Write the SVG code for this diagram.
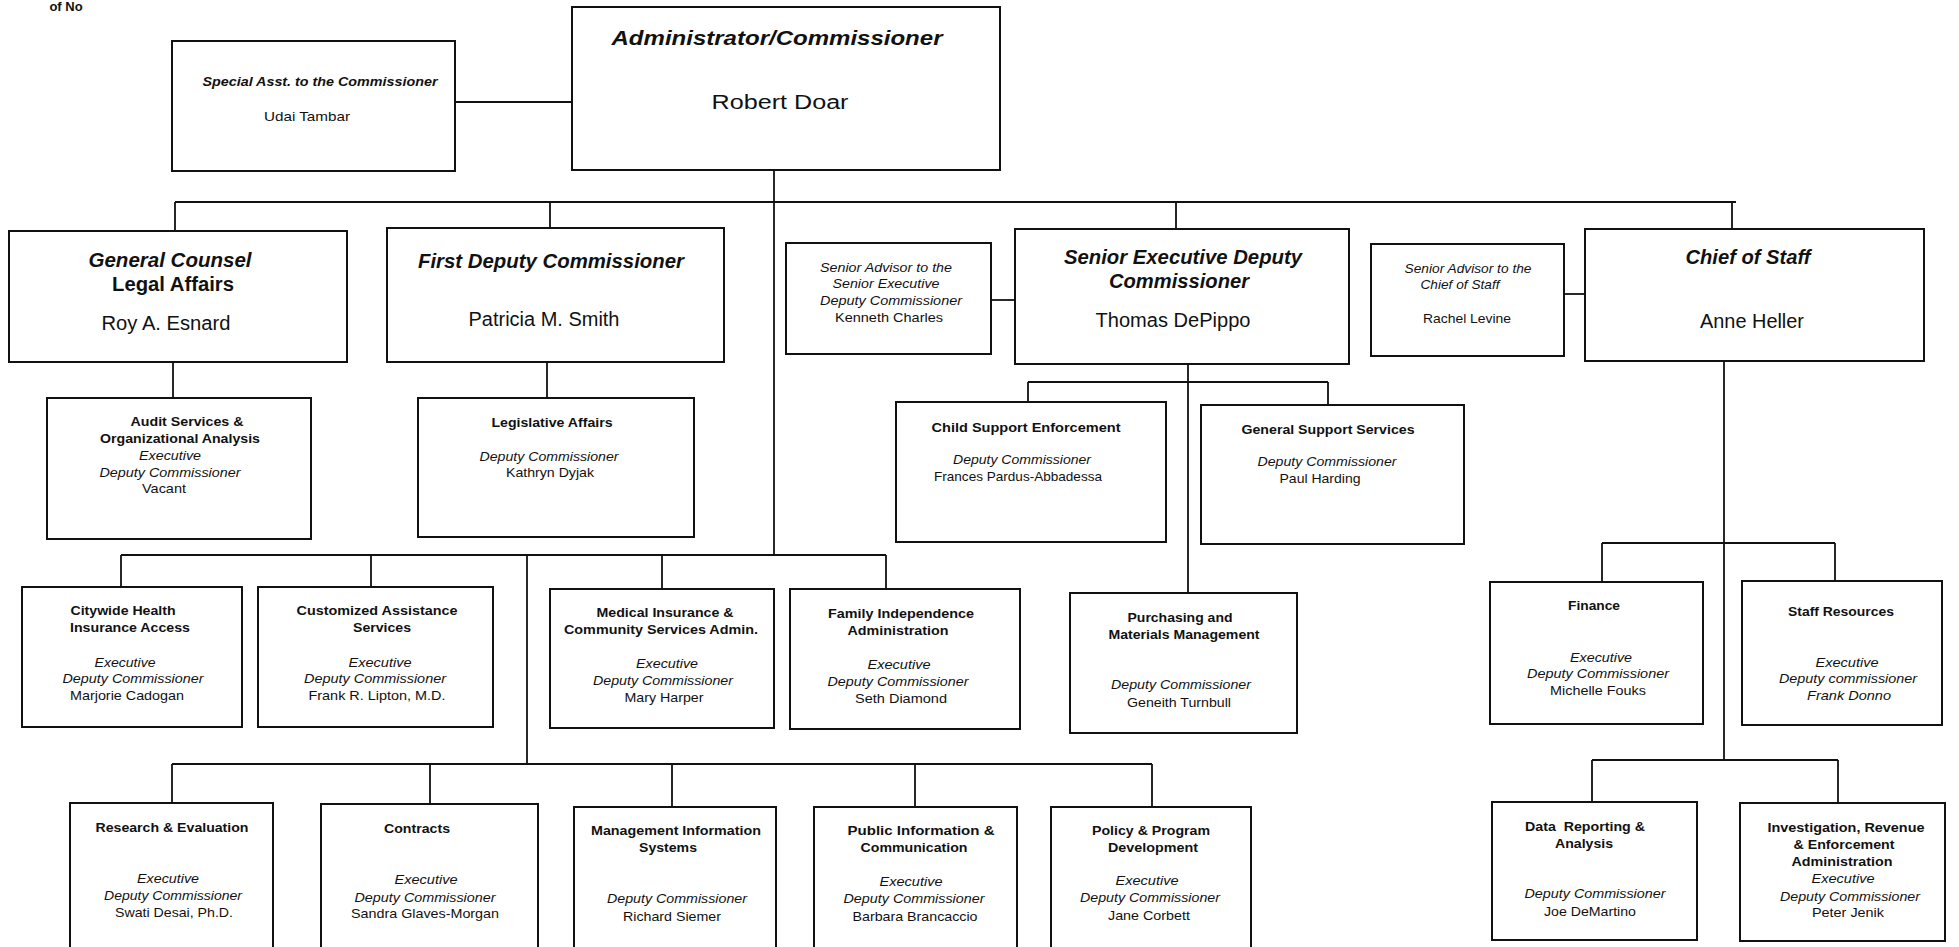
<svg xmlns="http://www.w3.org/2000/svg" width="1959" height="947" viewBox="0 0 1959 947">
<style>
.bx{fill:#fff;stroke:#111;stroke-width:2}
.ln{fill:none;stroke:#111;stroke-width:1.8}
text{font-family:"Liberation Sans",Arial,sans-serif;text-anchor:middle;fill:#111}
.h{font-size:20px;font-weight:bold;font-style:italic}
.hb{font-size:20px;font-weight:bold}
.n{font-size:20px}
.b{font-size:13px;font-weight:bold}
.i{font-size:13px;font-style:italic}
.r{font-size:13px}
</style>
<rect width="1959" height="947" fill="#fff"/>
<text class="b" x="66" y="11" font-size="8">of No</text>
<g id="connectors">
<path class="ln" d="M455 102H572"/>
<path class="ln" d="M774 170V555"/>
<path class="ln" d="M175 202H1736"/>
<path class="ln" d="M175 202V231M550 202V228M1176 202V229M1732 202V229"/>
<path class="ln" d="M991 300H1015"/>
<path class="ln" d="M1564 294H1585"/>
<path class="ln" d="M173 362V398"/>
<path class="ln" d="M547 362V398"/>
<path class="ln" d="M1188 364V593"/>
<path class="ln" d="M1028 382H1328M1028 382V402M1328 382V405"/>
<path class="ln" d="M1724 361V760"/>
<path class="ln" d="M1602 543H1835M1602 543V582M1835 543V581"/>
<path class="ln" d="M1592 760H1838M1592 760V802M1838 760V803"/>
<path class="ln" d="M121 555H886M121 555V587M371 555V587M662 555V589M886 555V589"/>
<path class="ln" d="M527 555V764"/>
<path class="ln" d="M172 764H1152M172 764V803M430 764V804M672 764V807M915 764V807M1152 764V807"/>
</g>
<g id="admin">
<rect class="bx" x="572" y="7" width="428" height="163"/>
<text class="h" x="777" y="45" font-size="24" textLength="331" lengthAdjust="spacingAndGlyphs">Administrator/Commissioner</text>
<text class="n" x="780" y="109" font-size="27" textLength="137" lengthAdjust="spacingAndGlyphs">Robert Doar</text>
</g>
<g id="special-asst">
<rect class="bx" x="172" y="41" width="283" height="130"/>
<text class="b" x="320" y="86" font-style="italic" textLength="235" lengthAdjust="spacingAndGlyphs">Special Asst. to the Commissioner</text>
<text class="r" x="307" y="121" textLength="86" lengthAdjust="spacingAndGlyphs">Udai Tambar</text>
</g>
<g id="general-counsel">
<rect class="bx" x="9" y="231" width="338" height="131"/>
<text class="h" x="170" y="267" textLength="163" lengthAdjust="spacingAndGlyphs">General Counsel</text>
<text class="hb" x="173" y="291" textLength="122" lengthAdjust="spacingAndGlyphs">Legal Affairs</text>
<text class="n" x="166" y="330" textLength="129" lengthAdjust="spacingAndGlyphs">Roy A. Esnard</text>
</g>
<g id="first-deputy">
<rect class="bx" x="387" y="228" width="337" height="134"/>
<text class="h" x="551" y="268" textLength="266" lengthAdjust="spacingAndGlyphs">First Deputy Commissioner</text>
<text class="n" x="544" y="326" textLength="151" lengthAdjust="spacingAndGlyphs">Patricia M. Smith</text>
</g>
<g id="senior-advisor-sedc">
<rect class="bx" x="786" y="243" width="205" height="111"/>
<text class="i" x="886" y="272" textLength="132" lengthAdjust="spacingAndGlyphs">Senior Advisor to the</text>
<text class="i" x="886" y="288" textLength="107" lengthAdjust="spacingAndGlyphs">Senior Executive</text>
<text class="i" x="891" y="305" textLength="142" lengthAdjust="spacingAndGlyphs">Deputy Commissioner</text>
<text class="r" x="889" y="322" textLength="108" lengthAdjust="spacingAndGlyphs">Kenneth Charles</text>
</g>
<g id="sedc">
<rect class="bx" x="1015" y="229" width="334" height="135"/>
<text class="h" x="1183" y="264" textLength="238" lengthAdjust="spacingAndGlyphs">Senior Executive Deputy</text>
<text class="h" x="1179" y="288" textLength="140" lengthAdjust="spacingAndGlyphs">Commissioner</text>
<text class="n" x="1173" y="327" textLength="155" lengthAdjust="spacingAndGlyphs">Thomas DePippo</text>
</g>
<g id="senior-advisor-cos">
<rect class="bx" x="1371" y="244" width="193" height="112"/>
<text class="i" x="1468" y="273" textLength="127" lengthAdjust="spacingAndGlyphs">Senior Advisor to the</text>
<text class="i" x="1460" y="289" textLength="79" lengthAdjust="spacingAndGlyphs">Chief of Staff</text>
<text class="r" x="1467" y="323" textLength="88" lengthAdjust="spacingAndGlyphs">Rachel Levine</text>
</g>
<g id="chief-of-staff">
<rect class="bx" x="1585" y="229" width="339" height="132"/>
<text class="h" x="1748" y="264" textLength="125" lengthAdjust="spacingAndGlyphs">Chief of Staff</text>
<text class="n" x="1752" y="328" textLength="104" lengthAdjust="spacingAndGlyphs">Anne Heller</text>
</g>
<g id="audit">
<rect class="bx" x="47" y="398" width="264" height="141"/>
<text class="b" x="187" y="426" textLength="113" lengthAdjust="spacingAndGlyphs">Audit Services &amp;</text>
<text class="b" x="180" y="443" textLength="160" lengthAdjust="spacingAndGlyphs">Organizational Analysis</text>
<text class="i" x="170" y="460" textLength="62" lengthAdjust="spacingAndGlyphs">Executive</text>
<text class="i" x="170" y="477" textLength="141" lengthAdjust="spacingAndGlyphs">Deputy Commissioner</text>
<text class="r" x="164" y="493" textLength="44" lengthAdjust="spacingAndGlyphs">Vacant</text>
</g>
<g id="legislative">
<rect class="bx" x="418" y="398" width="276" height="139"/>
<text class="b" x="552" y="427" textLength="121" lengthAdjust="spacingAndGlyphs">Legislative Affairs</text>
<text class="i" x="549" y="461" textLength="139" lengthAdjust="spacingAndGlyphs">Deputy Commissioner</text>
<text class="r" x="550" y="477" textLength="88" lengthAdjust="spacingAndGlyphs">Kathryn Dyjak</text>
</g>
<g id="child-support">
<rect class="bx" x="896" y="402" width="270" height="140"/>
<text class="b" x="1026" y="432" textLength="189" lengthAdjust="spacingAndGlyphs">Child Support Enforcement</text>
<text class="i" x="1022" y="464" textLength="138" lengthAdjust="spacingAndGlyphs">Deputy Commissioner</text>
<text class="r" x="1018" y="481" textLength="168" lengthAdjust="spacingAndGlyphs">Frances Pardus-Abbadessa</text>
</g>
<g id="general-support">
<rect class="bx" x="1201" y="405" width="263" height="139"/>
<text class="b" x="1328" y="434" textLength="173" lengthAdjust="spacingAndGlyphs">General Support Services</text>
<text class="i" x="1327" y="466" textLength="139" lengthAdjust="spacingAndGlyphs">Deputy Commissioner</text>
<text class="r" x="1320" y="483" textLength="81" lengthAdjust="spacingAndGlyphs">Paul Harding</text>
</g>
<g id="citywide">
<rect class="bx" x="22" y="587" width="220" height="140"/>
<text class="b" x="123" y="615" textLength="105" lengthAdjust="spacingAndGlyphs">Citywide Health</text>
<text class="b" x="130" y="632" textLength="120" lengthAdjust="spacingAndGlyphs">Insurance Access</text>
<text class="i" x="125" y="667" textLength="61" lengthAdjust="spacingAndGlyphs">Executive</text>
<text class="i" x="133" y="683" textLength="141" lengthAdjust="spacingAndGlyphs">Deputy Commissioner</text>
<text class="r" x="127" y="700" textLength="114" lengthAdjust="spacingAndGlyphs">Marjorie Cadogan</text>
</g>
<g id="customized">
<rect class="bx" x="258" y="587" width="235" height="140"/>
<text class="b" x="377" y="615" textLength="161" lengthAdjust="spacingAndGlyphs">Customized Assistance</text>
<text class="b" x="382" y="632" textLength="58" lengthAdjust="spacingAndGlyphs">Services</text>
<text class="i" x="380" y="667" textLength="63" lengthAdjust="spacingAndGlyphs">Executive</text>
<text class="i" x="375" y="683" textLength="142" lengthAdjust="spacingAndGlyphs">Deputy Commissioner</text>
<text class="r" x="377" y="700" textLength="137" lengthAdjust="spacingAndGlyphs">Frank R. Lipton, M.D.</text>
</g>
<g id="medical">
<rect class="bx" x="550" y="589" width="224" height="139"/>
<text class="b" x="665" y="617" textLength="137" lengthAdjust="spacingAndGlyphs">Medical Insurance &amp;</text>
<text class="b" x="661" y="634" textLength="194" lengthAdjust="spacingAndGlyphs">Community Services Admin.</text>
<text class="i" x="667" y="668" textLength="62" lengthAdjust="spacingAndGlyphs">Executive</text>
<text class="i" x="663" y="685" textLength="140" lengthAdjust="spacingAndGlyphs">Deputy Commissioner</text>
<text class="r" x="664" y="702" textLength="79" lengthAdjust="spacingAndGlyphs">Mary Harper</text>
</g>
<g id="family">
<rect class="bx" x="790" y="589" width="230" height="140"/>
<text class="b" x="901" y="618" textLength="146" lengthAdjust="spacingAndGlyphs">Family Independence</text>
<text class="b" x="898" y="635" textLength="101" lengthAdjust="spacingAndGlyphs">Administration</text>
<text class="i" x="899" y="669" textLength="63" lengthAdjust="spacingAndGlyphs">Executive</text>
<text class="i" x="898" y="686" textLength="141" lengthAdjust="spacingAndGlyphs">Deputy Commissioner</text>
<text class="r" x="901" y="703" textLength="92" lengthAdjust="spacingAndGlyphs">Seth Diamond</text>
</g>
<g id="purchasing">
<rect class="bx" x="1070" y="593" width="227" height="140"/>
<text class="b" x="1180" y="622" textLength="105" lengthAdjust="spacingAndGlyphs">Purchasing and</text>
<text class="b" x="1184" y="639" textLength="151" lengthAdjust="spacingAndGlyphs">Materials Management</text>
<text class="i" x="1181" y="689" textLength="140" lengthAdjust="spacingAndGlyphs">Deputy Commissioner</text>
<text class="r" x="1179" y="707" textLength="104" lengthAdjust="spacingAndGlyphs">Geneith Turnbull</text>
</g>
<g id="finance">
<rect class="bx" x="1490" y="582" width="213" height="142"/>
<text class="b" x="1594" y="610" textLength="52" lengthAdjust="spacingAndGlyphs">Finance</text>
<text class="i" x="1601" y="662" textLength="62" lengthAdjust="spacingAndGlyphs">Executive</text>
<text class="i" x="1598" y="678" textLength="142" lengthAdjust="spacingAndGlyphs">Deputy Commissioner</text>
<text class="r" x="1598" y="695" textLength="96" lengthAdjust="spacingAndGlyphs">Michelle Fouks</text>
</g>
<g id="staff-resources">
<rect class="bx" x="1742" y="581" width="200" height="144"/>
<text class="b" x="1841" y="616" textLength="106" lengthAdjust="spacingAndGlyphs">Staff Resources</text>
<text class="i" x="1847" y="667" textLength="63" lengthAdjust="spacingAndGlyphs">Executive</text>
<text class="i" x="1848" y="683" textLength="138" lengthAdjust="spacingAndGlyphs">Deputy commissioner</text>
<text class="i" x="1849" y="700" textLength="84" lengthAdjust="spacingAndGlyphs">Frank Donno</text>
</g>
<g id="research">
<rect class="bx" x="70" y="803" width="203" height="147"/>
<text class="b" x="172" y="832" textLength="153" lengthAdjust="spacingAndGlyphs">Research &amp; Evaluation</text>
<text class="i" x="168" y="883" textLength="62" lengthAdjust="spacingAndGlyphs">Executive</text>
<text class="i" x="173" y="900" textLength="138" lengthAdjust="spacingAndGlyphs">Deputy Commissioner</text>
<text class="r" x="174" y="917" textLength="118" lengthAdjust="spacingAndGlyphs">Swati Desai, Ph.D.</text>
</g>
<g id="contracts">
<rect class="bx" x="321" y="804" width="217" height="146"/>
<text class="b" x="417" y="833" textLength="66" lengthAdjust="spacingAndGlyphs">Contracts</text>
<text class="i" x="426" y="884" textLength="63" lengthAdjust="spacingAndGlyphs">Executive</text>
<text class="i" x="425" y="902" textLength="141" lengthAdjust="spacingAndGlyphs">Deputy Commissioner</text>
<text class="r" x="425" y="918" textLength="148" lengthAdjust="spacingAndGlyphs">Sandra Glaves-Morgan</text>
</g>
<g id="mis">
<rect class="bx" x="574" y="807" width="202" height="143"/>
<text class="b" x="676" y="835" textLength="170" lengthAdjust="spacingAndGlyphs">Management Information</text>
<text class="b" x="668" y="852" textLength="58" lengthAdjust="spacingAndGlyphs">Systems</text>
<text class="i" x="677" y="903" textLength="140" lengthAdjust="spacingAndGlyphs">Deputy Commissioner</text>
<text class="r" x="672" y="921" textLength="98" lengthAdjust="spacingAndGlyphs">Richard Siemer</text>
</g>
<g id="public-info">
<rect class="bx" x="814" y="807" width="203" height="143"/>
<text class="b" x="921" y="835" textLength="147" lengthAdjust="spacingAndGlyphs">Public Information &amp;</text>
<text class="b" x="914" y="852" textLength="107" lengthAdjust="spacingAndGlyphs">Communication</text>
<text class="i" x="911" y="886" textLength="63" lengthAdjust="spacingAndGlyphs">Executive</text>
<text class="i" x="914" y="903" textLength="141" lengthAdjust="spacingAndGlyphs">Deputy Commissioner</text>
<text class="r" x="915" y="921" textLength="125" lengthAdjust="spacingAndGlyphs">Barbara Brancaccio</text>
</g>
<g id="policy">
<rect class="bx" x="1051" y="807" width="200" height="143"/>
<text class="b" x="1151" y="835" textLength="118" lengthAdjust="spacingAndGlyphs">Policy &amp; Program</text>
<text class="b" x="1153" y="852" textLength="90" lengthAdjust="spacingAndGlyphs">Development</text>
<text class="i" x="1147" y="885" textLength="63" lengthAdjust="spacingAndGlyphs">Executive</text>
<text class="i" x="1150" y="902" textLength="140" lengthAdjust="spacingAndGlyphs">Deputy Commissioner</text>
<text class="r" x="1149" y="920" textLength="82" lengthAdjust="spacingAndGlyphs">Jane Corbett</text>
</g>
<g id="data-reporting">
<rect class="bx" x="1492" y="802" width="205" height="138"/>
<text class="b" x="1585" y="831" textLength="120" lengthAdjust="spacingAndGlyphs">Data&#160; Reporting &amp;</text>
<text class="b" x="1584" y="848" textLength="58" lengthAdjust="spacingAndGlyphs">Analysis</text>
<text class="i" x="1595" y="898" textLength="141" lengthAdjust="spacingAndGlyphs">Deputy Commissioner</text>
<text class="r" x="1590" y="916" textLength="92" lengthAdjust="spacingAndGlyphs">Joe DeMartino</text>
</g>
<g id="investigation">
<rect class="bx" x="1740" y="803" width="205" height="138"/>
<text class="b" x="1846" y="832" textLength="157" lengthAdjust="spacingAndGlyphs">Investigation, Revenue</text>
<text class="b" x="1844" y="849" textLength="101" lengthAdjust="spacingAndGlyphs">&amp; Enforcement</text>
<text class="b" x="1842" y="866" textLength="101" lengthAdjust="spacingAndGlyphs">Administration</text>
<text class="i" x="1843" y="883" textLength="63" lengthAdjust="spacingAndGlyphs">Executive</text>
<text class="i" x="1850" y="901" textLength="140" lengthAdjust="spacingAndGlyphs">Deputy Commissioner</text>
<text class="r" x="1848" y="917" textLength="72" lengthAdjust="spacingAndGlyphs">Peter Jenik</text>
</g>
</svg>
